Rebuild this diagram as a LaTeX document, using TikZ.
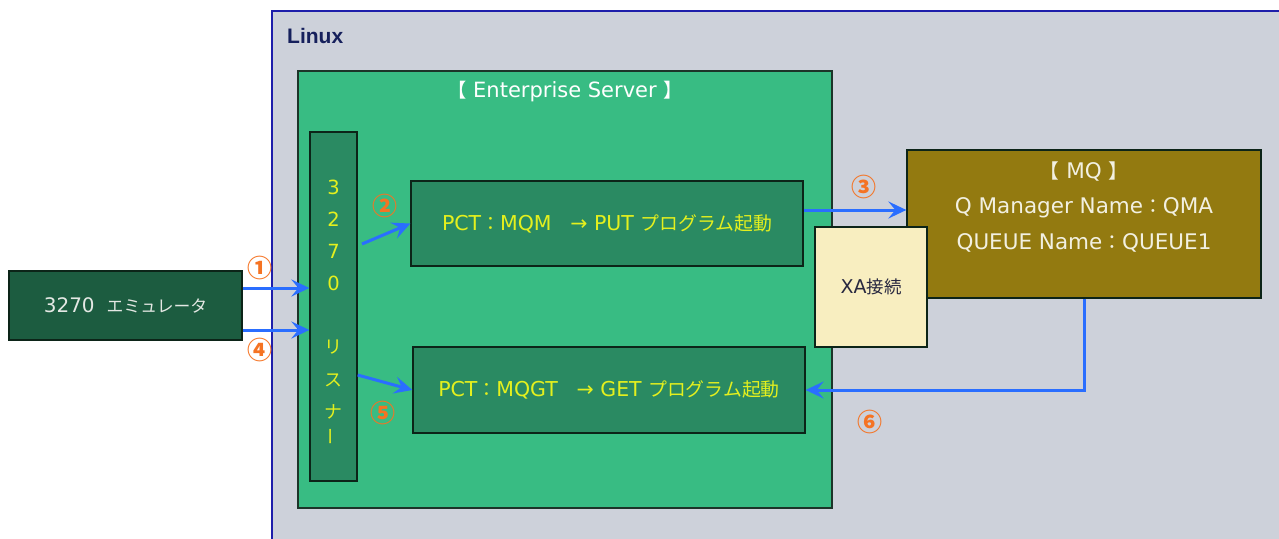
\documentclass[tikz,border=0pt]{standalone}
\usepackage{fontspec}
\setmainfont{DejaVu Sans}
\newfontfamily\jp[Scale=0.92]{Noto Sans CJK JP}
\newfontfamily\jpe[Scale=0.84]{Noto Sans CJK JP}
\newfontfamily\jpn{Noto Sans CJK JP}
\newfontfamily\lbold{Liberation Sans}
\usetikzlibrary{arrows.meta}
\definecolor{linuxbg}{RGB}{205,209,218}
\definecolor{linuxbd}{RGB}{30,30,170}
\definecolor{linuxtx}{RGB}{22,32,92}
\definecolor{esfill}{RGB}{56,188,131}
\definecolor{esbd}{RGB}{28,52,40}
\definecolor{inner}{RGB}{42,138,98}
\definecolor{innerbd}{RGB}{12,36,24}
\definecolor{ytext}{RGB}{228,240,30}
\definecolor{emufill}{RGB}{28,92,64}
\definecolor{emutext}{RGB}{228,232,228}
\definecolor{mqfill}{RGB}{147,122,16}
\definecolor{mqtext}{RGB}{242,240,225}
\definecolor{xafill}{RGB}{248,238,192}
\definecolor{xatext}{RGB}{40,40,64}
\definecolor{arrowblue}{RGB}{42,110,255}
\definecolor{numorange}{RGB}{245,115,35}
\tikzset{
  box/.style={draw=innerbd, line width=1.3pt, inner sep=0pt},
  greenbox/.style={box, fill=inner, text=ytext, font=\fontsize{20.5}{24}\selectfont},
  arr/.style={draw=arrowblue, line width=3pt, -{Stealth[length=18pt,width=17pt,inset=7pt]}},
  num/.style={text=numorange, font=\jpn\bfseries\fontsize{25}{25}\selectfont, inner sep=0pt},
  lch/.style={text=ytext, font=\fontsize{19.5}{22}\selectfont, inner sep=0pt},
  mqt/.style={text=mqtext, font=\fontsize{21.5}{24}\selectfont, inner sep=0pt},
}
\begin{document}
\begin{tikzpicture}[x=1pt,y=-1pt]
\useasboundingbox (0,0) rectangle (1279,538);
% Linux area
\begin{scope}
\clip (0,0) rectangle (1279,538);
\path[fill=linuxbg, draw=linuxbd, line width=1.3pt] (272,11) rectangle (1300,560);
\end{scope}
\node[anchor=west, text=linuxtx, font=\lbold\bfseries\fontsize{21}{24}\selectfont, inner sep=0pt] (linux) at (287,36) {Linux};
% Enterprise Server
\path[fill=esfill, draw=esbd, line width=1.3pt] (298,71) rectangle (832,508);
\node[text=white, font=\fontsize{21}{24}\selectfont, inner sep=0pt] (estitle) at (565,92) {{\jp 【} Enterprise Server {\jp 】}};
% listener
\node[box, fill=inner, minimum width=47pt, minimum height=349pt] (lst) at (333.5,306.5) {};
\foreach \c/\yy [count=\i] in {3/187,2/219,7/251,0/283,{\jp リ}/347,{\jp ス}/380,{\jp ナ}/412}
  \node[lch] (lc\i) at (333.5,\yy) {\c};
\node[lch, rotate=90] (lc8) at (333.5,437) {\jp ー};
% PUT / GET boxes
\node[greenbox, minimum width=392pt, minimum height=85pt] (put) at (607,223.5) {PCT{\jp ：}MQM{\jp 　}→ PUT {\jp プログラム起動}};
\node[greenbox, minimum width=392pt, minimum height=86pt] (get) at (609,390) {PCT{\jp ：}MQGT{\jp 　}→ GET {\jp プログラム起動}};
% emulator
\node[box, fill=emufill, text=emutext, font=\fontsize{20}{22}\selectfont, minimum width=233pt, minimum height=69pt] (emu) at (125.5,305.5) {3270\hspace{12pt}{\jpe エミュレータ}};
% MQ
\node[box, fill=mqfill, minimum width=354pt, minimum height=148pt] (mq) at (1084,224) {};
\node[mqt] (mq1) at (1084,172) {{\jp 【} MQ {\jp 】}};
\node[mqt] (mq2) at (1084,208) {Q Manager Name{\jp ：}QMA};
\node[mqt] (mq3) at (1084,243) {QUEUE Name{\jp ：}QUEUE1};
% XA
\node[box, fill=xafill, text=xatext, font=\fontsize{19}{22}\selectfont, minimum width=112pt, minimum height=120pt] (xa) at (871,287) {XA{\jp 接続}};
% arrows
\coordinate (a2s) at (362,244);
\draw[arr] ([yshift=17.5pt]emu.east) -- ([yshift=17.5pt]emu.east -| lst.west);
\draw[arr] ([yshift=-24.5pt]emu.east) -- ([yshift=-24.5pt]emu.east -| lst.west);
\draw[arr] (a2s) -- (put.west);
\draw[arr] ([yshift=-68.5pt]lst.east) -- (get.west);
\draw[arr] ([yshift=13.5pt]put.east) -- ([yshift=13.5pt]put.east -| mq.west);
\draw[arr] (mq.south) |- (get.east);
% numbers
\node[num] (n1) at (260,268) {①};
\node[num] (n2) at (385,206) {②};
\node[num] (n3) at (864,187) {③};
\node[num] (n4) at (260,350) {④};
\node[num] (n5) at (383,413) {⑤};
\node[num] (n6) at (870,422) {⑥};
\end{tikzpicture}
\end{document}
